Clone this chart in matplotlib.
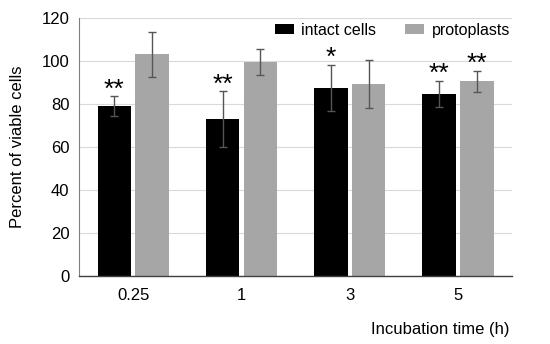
import matplotlib
matplotlib.use("Agg")
import matplotlib.pyplot as plt
import numpy as np

plt.rcParams["font.family"] = ["Liberation Sans", "DejaVu Sans"]

times = ["0.25", "1", "3", "5"]
intact = [79.0, 73.0, 87.3, 84.6]
intact_err = [4.5, 12.9, 10.8, 6.1]
proto = [103.1, 99.5, 89.3, 90.4]
proto_err = [10.5, 6.2, 11.2, 4.9]
intact_sig = ["**", "**", "*", "**"]
proto_sig = ["", "", "", "**"]

fig = plt.figure(figsize=(5.5, 3.44), dpi=100)
ax = fig.add_axes([0.144, 0.1985, 0.787, 0.7495])

x = np.arange(len(times))
w = 0.31
off = 0.175
ekw = dict(ecolor="#555555", elinewidth=1.0, capsize=3, capthick=1.0)
ax.bar(x - off, intact, w, yerr=intact_err, color="black",
       label="intact cells", error_kw=ekw, zorder=2)
ax.bar(x + off, proto, w, yerr=proto_err, color="#a6a6a6",
       label="protoplasts", error_kw=ekw, zorder=2)

for xi, v, e, s in zip(x - off, intact, intact_err, intact_sig):
    if s:
        ax.text(xi, v + e - 2.5, s, ha="center", va="bottom", fontsize=19)
for xi, v, e, s in zip(x + off, proto, proto_err, proto_sig):
    if s:
        ax.text(xi, v + e - 2.5, s, ha="center", va="bottom", fontsize=19)

ax.set_xlim(-0.5, 3.5)
ax.set_ylim(0, 120)
ax.set_yticks(range(0, 121, 20))
ax.set_xticks(x)
ax.set_xticklabels(times)
ax.tick_params(length=0, labelsize=12)
ax.tick_params(axis="x", pad=9)
ax.tick_params(axis="y", pad=7)
ax.yaxis.grid(True, color="#d9d9d9", lw=0.8, zorder=0)
ax.set_axisbelow(True)
for sp in ["top", "right"]:
    ax.spines[sp].set_visible(False)
ax.spines["left"].set_color("#7f7f7f")
ax.spines["bottom"].set_color("#404040")
ax.spines["bottom"].set_linewidth(1.0)

ax.set_ylabel("Percent of viable cells", fontsize=12)
ax.yaxis.set_label_coords(-0.125, 0.5)
ax.set_xlabel("Incubation time (h)", fontsize=12)
ax.xaxis.set_label_coords(0.995, -0.18)
ax.xaxis.label.set_horizontalalignment("right")

ax.legend(loc="center right", ncol=2, frameon=False, fontsize=11.5,
          handlelength=1.2, handleheight=0.65, handletextpad=0.45,
          columnspacing=1.8, borderpad=0, borderaxespad=0,
          bbox_to_anchor=(0.995, 0.953))

fig.savefig("out.png", dpi=100)
